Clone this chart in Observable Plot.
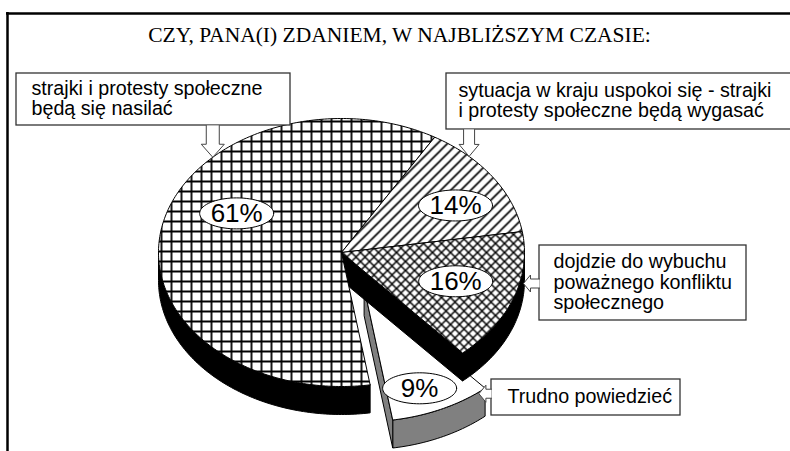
<!DOCTYPE html>
<html><head><meta charset="utf-8">
<script src="https://cdn.jsdelivr.net/npm/d3@7"></script>
<script src="https://cdn.jsdelivr.net/npm/@observablehq/plot@0.6"></script>
<style>html,body{margin:0;padding:0;background:#fff;overflow:hidden}</style>
</head><body><div id="chart"></div>
<script>
// ---------- data ----------
const title = "CZY, PANA(I) ZDANIEM, W NAJBLIŻSZYM CZASIE:";
const categories = [
  "strajki i protesty społeczne będą się nasilać",
  "sytuacja w kraju uspokoi się - strajki i protesty społeczne będą wygasać",
  "dojdzie do wybuchu poważnego konfliktu społecznego",
  "Trudno powiedzieć"
];
const categoryLines = [
  ["strajki i protesty społeczne", "będą się nasilać"],
  ["sytuacja w kraju uspokoi się - strajki", "i protesty społeczne będą wygasać"],
  ["dojdzie do wybuchu", "poważnego konfliktu", "społecznego"],
  ["Trudno powiedzieć"]
];
const values = [61, 14, 16, 9];
const valueLabels = ["61%", "14%", "16%", "9%"];

// ---------- layout & style ----------
const W = 790, H = 451;
const pie = {cx: 341, cy: 252, rx: 183, ry: 134, depth: 28, start: 171};
const explode = [0, 0, 0, 0.29];
const faceFill = ["url(#pGrid)", "url(#pHatch)", "url(#pCross)", "#ffffff"];
const sideFill = ["#000000", "#000000", "#000000", "#808080"];
const labelPolar = [[297, 0.643], [60.6, 0.715], [109, 0.66], [158, 0.81]];
const callouts = [
  {tip: [315.3, 1.0], dir: "down", box: [16, 73, 290, 125], pad: 15, sw: 6.5, hw: 11.5, hl: 13},
  {tip: [44.2, 1.0], dir: "down", box: [446, 73, 800, 129], pad: 12, sw: 5.5, hw: 10, hl: 12},
  {tip: [103.1, 1.021], dir: "left", box: [539, 245, 746, 320], pad: 14, sw: 4.5, hw: 8.5, hl: 7},
  {tip: [141.6, 1.01], dir: "left", box: [491, 379, 680, 415], pad: 16, sw: 4.5, hw: 8.5, hl: 7}
];
const sans = "Liberation Sans, Arial, sans-serif";
const serif = "Liberation Serif, Times New Roman, serif";

// ---------- geometry ----------
const rad = d => d * Math.PI / 180;
function P(c, a, r = 1, dz = 0) {
  return {x: c[0] + pie.rx * r * Math.sin(rad(a)), y: c[1] - pie.ry * r * Math.cos(rad(a)) + dz};
}
function arc(c, a0, a1, dz = 0) {
  const n = Math.max(2, Math.ceil(Math.abs(a1 - a0)));
  return d3.range(n + 1).map(k => P(c, a0 + (a1 - a0) * k / n, 1, dz));
}
const total = d3.sum(values);
const slices = [];
let acc = pie.start;
values.forEach((v, i) => {
  const a0 = acc, a1 = acc + v / total * 360; acc = a1;
  const mid = (a0 + a1) / 2, e = explode[i];
  const c = [pie.cx + pie.rx * e * Math.sin(rad(mid)), pie.cy - pie.ry * e * Math.cos(rad(mid))];
  slices.push({i, a0, a1, mid, c});
});
const n = values.length;
function faces(s) {
  const {i, a0, a1, c} = s, d = pie.depth;
  const sides = [];
  for (const k of [0, 360]) {
    const lo = Math.max(a0, 90 + k), hi = Math.min(a1, 270 + k);
    if (hi > lo) {
      const pts = [...arc(c, lo, hi), ...arc(c, hi, lo, d)];
      pts.push(pts[0]);
      sides.push(pts);
    }
  }
  const prev = (i - 1 + n) % n, next = (i + 1) % n;
  const C = {x: c[0], y: c[1]}, Cd = {x: c[0], y: c[1] + d};
  if ((explode[i] > 0 || explode[prev] > 0) && Math.cos(rad(a0 - 270)) > 0.01)
    sides.push([C, P(c, a0), P(c, a0, 1, d), Cd, C]);
  if ((explode[i] > 0 || explode[next] > 0) && Math.cos(rad(a1 - 90)) > 0.01)
    sides.push([C, P(c, a1), P(c, a1, 1, d), Cd, C]);
  const top = [C, ...arc(c, a0, a1), C];
  return {sides, top};
}
const poly = (pts, fill, stroke = "#000", sw = 1) =>
  Plot.line(pts, {x: "x", y: "y", fill, stroke, strokeWidth: sw, strokeLinejoin: "round"});

const pieMarks = [];
// exploded slices first (complete), then sides of the rest, then their tops
for (const s of slices.filter(s => explode[s.i] > 0)) {
  const f = faces(s);
  f.sides.forEach(p => pieMarks.push(poly(p, sideFill[s.i])));
  pieMarks.push(poly(f.top, faceFill[s.i]));
}
const rest = slices.filter(s => explode[s.i] === 0).map(s => ({s, f: faces(s)}));
rest.forEach(({s, f}) => f.sides.forEach(p => pieMarks.push(poly(p, sideFill[s.i]))));
rest.forEach(({s, f}) => pieMarks.push(poly(f.top, faceFill[s.i])));

// value labels
const labels = slices.map(s => {
  const [a, r] = labelPolar[s.i];
  const p = P(s.c, a, r);
  return {x: p.x, y: p.y, text: valueLabels[s.i]};
});
const ellipseMarks = labels.map(l =>
  poly(d3.range(73).map(k => ({x: l.x + 37 * Math.cos(rad(k * 5)), y: l.y + 15.5 * Math.sin(rad(k * 5))})), "#fff", "#000", 1));

// callouts
const boxData = callouts.map(c => ({x1: c.box[0], y1: c.box[1], x2: c.box[2], y2: c.box[3]}));
const arrowMarks = callouts.map((c, i) => {
  const t = P(slices[i].c, c.tip[0], c.tip[1]);
  let pts;
  if (c.dir === "down") {
    const yb = c.box[3];
    pts = [{x: t.x - c.sw, y: yb}, {x: t.x - c.sw, y: t.y - c.hl}, {x: t.x - c.hw, y: t.y - c.hl}, t,
           {x: t.x + c.hw, y: t.y - c.hl}, {x: t.x + c.sw, y: t.y - c.hl}, {x: t.x + c.sw, y: yb}];
  } else {
    const xb = c.box[0];
    pts = [{x: xb, y: t.y - c.sw}, {x: t.x + c.hl, y: t.y - c.sw}, {x: t.x + c.hl, y: t.y - c.hw}, t,
           {x: t.x + c.hl, y: t.y + c.hw}, {x: t.x + c.hl, y: t.y + c.sw}, {x: xb, y: t.y + c.sw}];
  }
  return poly(pts, "#fff", "#444", 1);
});
const calloutText = callouts.map((c, i) => ({
  x: c.box[0] + c.pad, y: (c.box[1] + c.box[3]) / 2 - 1, text: categoryLines[i].join("\n")
}));

const chart = Plot.plot({
  width: W, height: H, margin: 0,
  x: {domain: [0, W], range: [0, W], axis: null},
  y: {domain: [0, H], range: [0, H], axis: null},
  style: {background: "#fff", overflow: "hidden"},
  marks: [
    ...pieMarks,
    Plot.rect(boxData, {x1: "x1", y1: "y1", x2: "x2", y2: "y2", fill: "#fff", stroke: "#333", strokeWidth: 1.3}),
    ...arrowMarks,
    Plot.text(calloutText, {x: "x", y: "y", text: "text", textAnchor: "start", lineAnchor: "middle",
      lineHeight: 1.05, fontSize: 19.7, fontFamily: sans, fill: "#000"}),
    ...ellipseMarks,
    Plot.text(labels, {x: "x", y: "y", text: "text", fontSize: 26, fontFamily: sans, fill: "#000", lineAnchor: "middle"}),
    Plot.text([title], {x: W / 2 + 4, y: 35, text: d => d, fontSize: 21.5, fontFamily: serif, fill: "#000", lineAnchor: "middle"}),
    Plot.ruleY([13], {x1: 6, x2: W, stroke: "#000", strokeWidth: 2.5}),
    Plot.ruleX([7], {y1: 12, y2: H, stroke: "#000", strokeWidth: 2.5})
  ]
});

// fill patterns
const defs = d3.select(chart).insert("defs", ":first-child");
function pattern(id, size, d, sw) {
  const p = defs.append("pattern").attr("id", id).attr("patternUnits", "userSpaceOnUse")
    .attr("width", size).attr("height", size);
  p.append("rect").attr("width", size).attr("height", size).attr("fill", "#fff");
  p.append("path").attr("d", d).attr("stroke", "#000").attr("stroke-width", sw).attr("fill", "none");
}
pattern("pGrid", 10, "M0,1H10M1,0V10", 1.8);
pattern("pHatch", 10, "M-2,2L2,-2M0,10L10,0M8,12L12,8", 1.6);
pattern("pCross", 9, "M-1,1L1,-1M0,9L9,0M8,10L10,8M-1,8L1,10M0,0L9,9M8,-1L10,1", 1.5);

document.getElementById("chart").appendChild(chart);
</script>
</body></html>
